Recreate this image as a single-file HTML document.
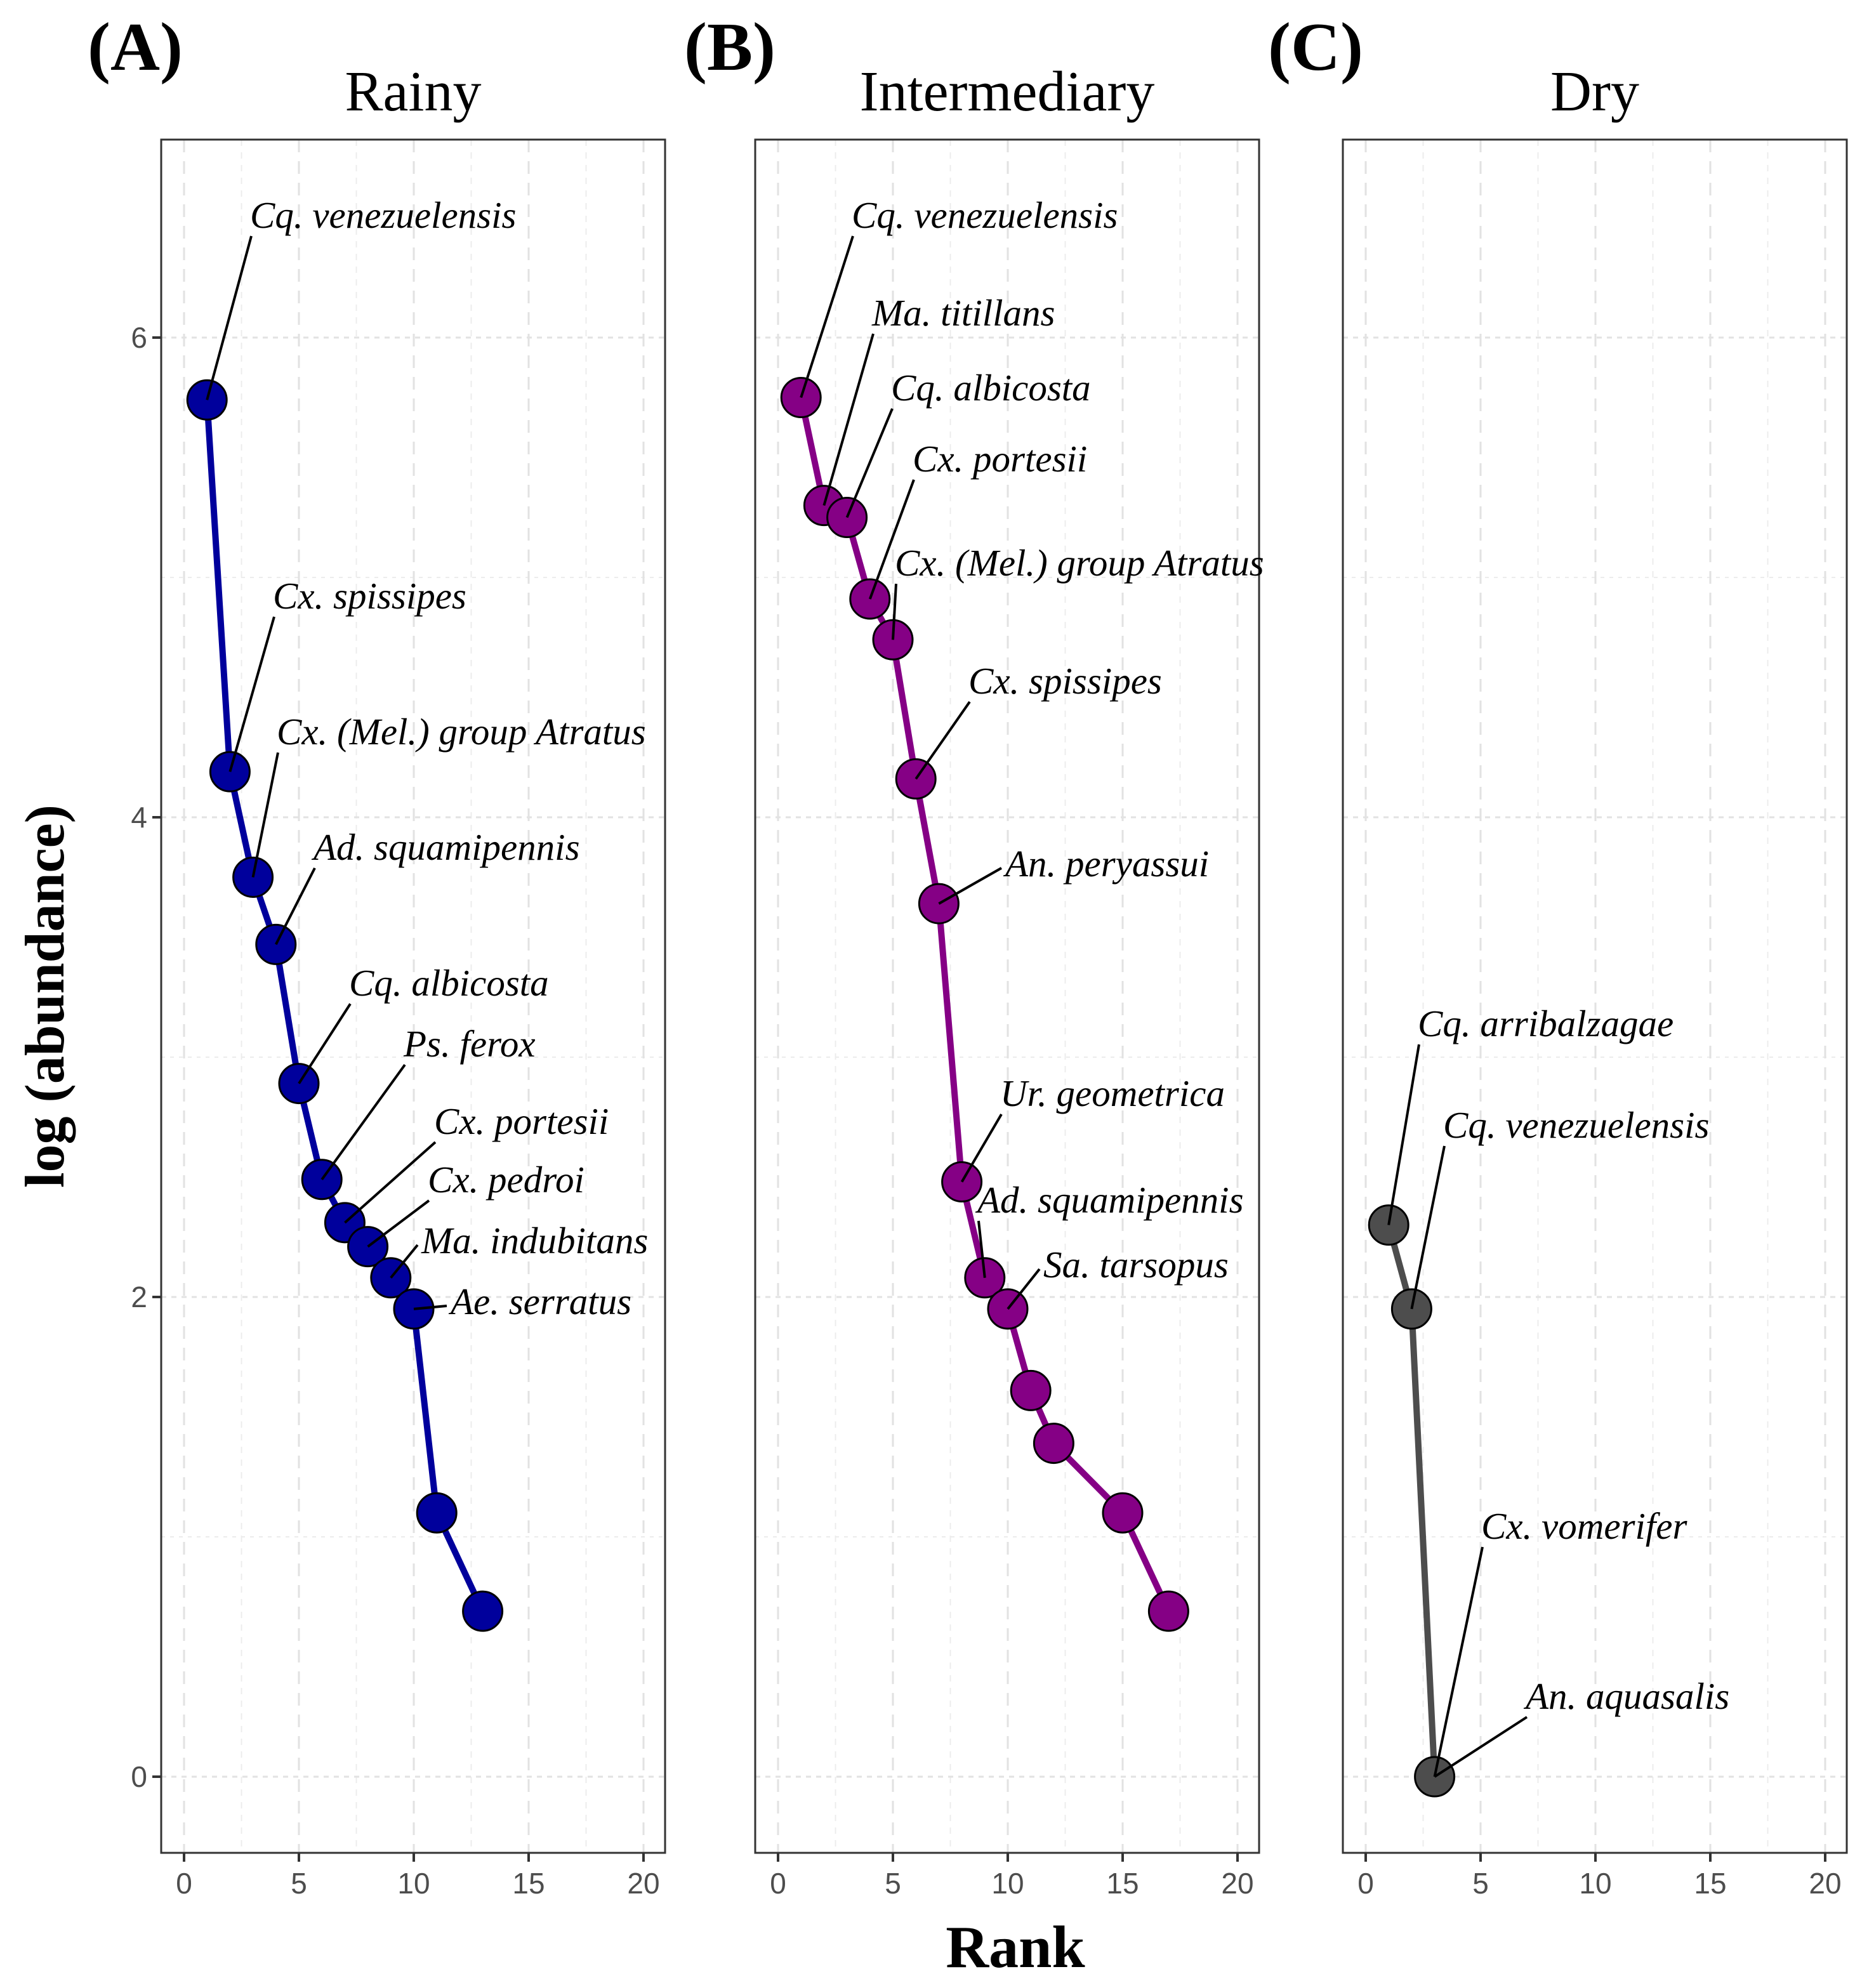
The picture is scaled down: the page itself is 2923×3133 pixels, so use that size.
<!DOCTYPE html>
<html><head><meta charset="utf-8"><style>
html,body{margin:0;padding:0;background:#fff;}
svg{display:block;}
</style></head><body>
<svg id="chart" width="2923" height="3133" xmlns="http://www.w3.org/2000/svg"></svg>
<script>
// ---- data ----
const rainyRanks = [1,2,3,4,5,6,7,8,9,10,11,13];
const rainyValues = [5.74,4.19,3.75,3.47,2.89,2.49,2.31,2.21,2.08,1.95,1.10,0.69];
const rainyLabels = ["Cq. venezuelensis","Cx. spissipes","Cx. (Mel.) group Atratus","Ad. squamipennis","Cq. albicosta","Ps. ferox","Cx. portesii","Cx. pedroi","Ma. indubitans","Ae. serratus"];
const interRanks = [1,2,3,4,5,6,7,8,9,10,11,12,15,17];
const interValues = [5.75,5.30,5.25,4.91,4.74,4.16,3.64,2.48,2.08,1.95,1.61,1.39,1.10,0.69];
const interLabels = ["Cq. venezuelensis","Ma. titillans","Cq. albicosta","Cx. portesii","Cx. (Mel.) group Atratus","Cx. spissipes","An. peryassui","Ur. geometrica","Ad. squamipennis","Sa. tarsopus"];
const dryRanks = [1,2,3];
const dryValues = [2.30,1.95,0.0];
const dryLabels = ["Cq. arribalzagae","Cq. venezuelensis","Cx. vomerifer","An. aquasalis"];
const dryLabelPointIdx = [0,1,2,2];
const xTicks = [0,5,10,15,20];
const yTicks = [0,2,4,6];
// label anchor text positions (layout, not data)
const rainyLabelPos = [[394,340],[430,940],[436,1154],[494,1336],[550,1550],[636,1646],[684,1768],[674,1860],[664,1956],[710,2052]];
const interLabelPos = [[1342,340],[1374,494],[1404,612],[1438,724],[1410,888],[1526,1074],[1584,1362],[1576,1724],[1540,1892],[1644,1994]];
const dryLabelPos = [[2234,1614],[2274,1774],[2334,2406],[2404,2674]];

const svg = document.getElementById('chart');
const NS = 'http://www.w3.org/2000/svg';
function mk(tag, attrs, parent){const e=document.createElementNS(NS,tag);for(const k in attrs)e.setAttribute(k,attrs[k]);(parent||svg).appendChild(e);return e;}

const yScale = v => 2800 - v*378;
const panelTop=220, panelBottom=2920;

function panel(name, left, ranks, values, labels, labelPos, labelIdx, color, title, letter, letterX, showY){
  const x0 = left+36;
  const xScale = r => x0 + r*36.2;
  const right = left+794;
  const g = mk('g',{});
  
  
  for(let t=2.5;t<=20;t+=5){const l=mk('line',{x1:xScale(t),x2:xScale(t),y1:panelTop,y2:panelBottom,stroke:'#ececec','stroke-width':2,'stroke-dasharray':'10 10'},g);}
  for(let t=1;t<=5;t+=2){const l=mk('line',{x1:left,x2:right,y1:yScale(t),y2:yScale(t),stroke:'#ececec','stroke-width':2,'stroke-dasharray':'6 8'},g);}
  xTicks.forEach(t=>{const l=mk('line',{x1:xScale(t),x2:xScale(t),y1:panelTop,y2:panelBottom,stroke:'#e2e2e2','stroke-width':3,'stroke-dasharray':'20 14'},g);});
  yTicks.forEach(t=>{const l=mk('line',{x1:left,x2:right,y1:yScale(t),y2:yScale(t),stroke:'#e2e2e2','stroke-width':3,'stroke-dasharray':'8 8'},g);});
  const b=mk('rect',{x:left,y:panelTop,width:794,height:panelBottom-panelTop,fill:'none',stroke:'#333','stroke-width':3},g);
  
  xTicks.forEach(t=>{
    const tk=mk('line',{x1:xScale(t),x2:xScale(t),y1:panelBottom,y2:panelBottom+14,stroke:'#333','stroke-width':4},g);
    
    const tx=mk('text',{x:xScale(t),y:2984,'text-anchor':'middle','font-family':'Liberation Sans, sans-serif','font-size':46,fill:'#4d4d4d'},g);
    tx.textContent=t;
  });
  if(showY){yTicks.forEach(t=>{
    const tk=mk('line',{x1:left-14,x2:left,y1:yScale(t),y2:yScale(t),stroke:'#333','stroke-width':4},g);
    
    const tx=mk('text',{x:left-22,y:yScale(t)+16,'text-anchor':'end','font-family':'Liberation Sans, sans-serif','font-size':46,fill:'#4d4d4d'},g);
    tx.textContent=t;
  });}
  const pts=ranks.map((r,i)=>xScale(r)+','+yScale(values[i])).join(' ');
  const pl=mk('polyline',{points:pts,fill:'none',stroke:color,'stroke-width':10,'stroke-linejoin':'round'},g);
  
  ranks.forEach((r,i)=>{
    const c=mk('circle',{cx:xScale(r),cy:yScale(values[i]),r:31,fill:color,stroke:'#000','stroke-width':3},g);
    
  });
  labels.forEach((lab,i)=>{
    const pi = labelIdx ? labelIdx[i] : i;
    const px=xScale(ranks[pi]), py=yScale(values[pi]);
    const [tx,ty]=labelPos[i];
    let sx = tx+2, sy = ty+32;
    if(Math.abs(sy-py)<40){sx=tx-6; sy=ty+6;}
    const seg=mk('line',{x1:px,y1:py,x2:sx,y2:sy,stroke:'#000','stroke-width':4},g);
    
    const t=mk('text',{x:tx,y:ty+19,'font-family':'Liberation Serif, serif','font-style':'italic','font-size':59,fill:'#000'},g);
    t.textContent=lab;
  });
  const ti=mk('text',{x:left+397,y:174,'text-anchor':'middle','font-family':'Liberation Serif, serif','font-size':90,fill:'#000'},g);
  ti.textContent=title;
  const le=mk('text',{x:letterX,y:110,'font-family':'Liberation Serif, serif','font-weight':'bold','font-size':108,fill:'#000'},g);
  le.textContent=letter;
}
panel('rainy',254,rainyRanks,rainyValues,rainyLabels,rainyLabelPos,null,'#00009c','Rainy','(A)',138,true);
panel('intermediary',1190,interRanks,interValues,interLabels,interLabelPos,null,'#850085','Intermediary','(B)',1078,false);
panel('dry',2116,dryRanks,dryValues,dryLabels,dryLabelPos,dryLabelPointIdx,'#4d4d4d','Dry','(C)',1998,false);

const xt=mk('text',{x:1600,y:3100,'text-anchor':'middle','font-family':'Liberation Serif, serif','font-weight':'bold','font-size':94,fill:'#000'});
xt.textContent='Rank';
const yt=mk('text',{x:0,y:0,transform:'translate(100,1570) rotate(-90)','text-anchor':'middle','font-family':'Liberation Serif, serif','font-weight':'bold','font-size':88,fill:'#000'});
yt.textContent='log (abundance)';
</script>
</body></html>
